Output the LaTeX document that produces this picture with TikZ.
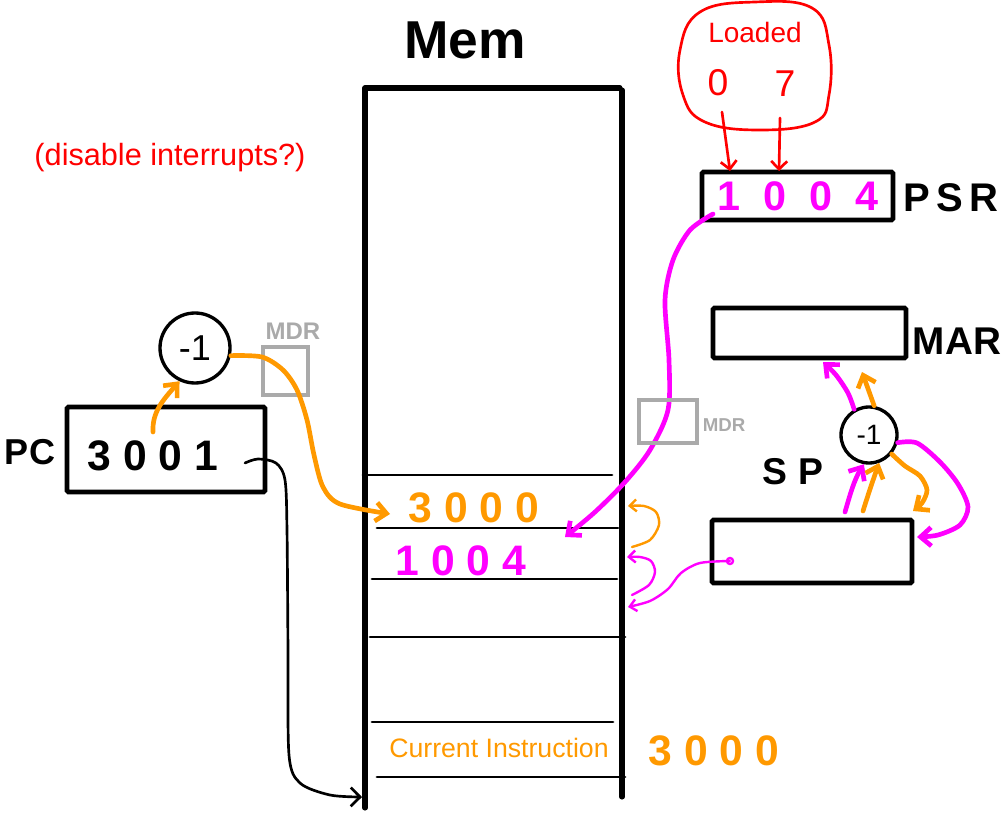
\documentclass[tikz,border=0pt]{standalone}
\usepackage{fontspec}
\setmainfont{Liberation Sans}
\usetikzlibrary{arrows.meta}
\definecolor{cOr}{RGB}{255,153,0}
\definecolor{cMg}{RGB}{255,0,255}
\definecolor{cRd}{RGB}{255,0,0}
\definecolor{cGy}{RGB}{170,170,170}
\newcommand{\fs}[1]{\fontsize{#1}{#1}\selectfont}
\newcommand{\gp}{\hspace{0.55em}}
\begin{document}
\begin{tikzpicture}[x=0.75pt,y=-0.75pt,
  reg/.style={draw=black, line width=3.5pt, rounded corners=1pt, inner sep=0},
  ghost/.style={draw=cGy, line width=2.5pt, inner sep=0},
  dec/.style={circle, draw=black, line width=2.5pt, inner sep=0},
  memline/.style={line width=2.2pt, line cap=round},
  wall/.style={line width=3.8pt, line cap=round, line join=round},
  fatarrow/.style={-{Straight Barb[length=8pt,width=14pt]}, line width=3.5pt, line cap=round, line join=round},
  slimarrow/.style={-{Straight Barb[length=5pt,width=9pt]}, line width=1.8pt, line cap=round, line join=round},
  txt/.style={inner sep=0, outer sep=0},
  heavy/.style={txt, font=\bfseries},
]
\useasboundingbox (0,0) rectangle (1003,813);

% ---- memory column
\draw[wall] (365,808) -- (365,88) -- (620,88);
\draw[wall] (622,90) -- (622,797);
\draw[memline] (363,475) -- (612,475);
\draw[memline] (377,528) -- (618,528);
\draw[memline] (372,579) -- (617,579);
\draw[memline] (370,637) -- (625,637);
\draw[memline] (372,722) -- (613,722);
\draw[memline] (377,777) -- (625,777);
\node[heavy] (memt) at (465,40) {\fs{40pt}Mem};

\coordinate (memA) at (390,514);
\coordinate (memB) at (565,537);
\coordinate (memC) at (362,797);
\coordinate (memR1) at (628,506);
\coordinate (memR1s) at (632,547);
\coordinate (memR2) at (627,557);
\coordinate (memR2s) at (632,595);
\coordinate (memR3) at (628,607);

\node[heavy, text=cOr] (v3000) at (474,508) {\fs{32pt}3 0 0 0};
\node[heavy, text=cMg] (v1004) at (461,561) {\fs{32pt}1 0 0 4};
\node[txt, text=cOr] (cur) at (499,748) {\fs{20pt}Current Instruction};
\node[heavy, text=cOr] (a3000) at (714,751) {\fs{32pt}3 0 0 0};

% ---- note
\node[txt, text=cRd] (note) at (170,158) {\fs{23pt}(disable interrupts?)};

% ---- PC side
\node[reg, minimum width={198*0.75pt}, minimum height={85*0.75pt}] (pc) at (166,449.5) {};
\node[heavy] (pcv) at (153,456) {\fs{32pt}3 0 0 1};
\node[heavy] (pcl) at (30,452) {\fs{27pt}PC};
\node[dec, minimum size={70*0.75pt}] (pcm) at (195,348) {\fs{27pt}-1};
\node[ghost, minimum width={45*0.75pt}, minimum height={48*0.75pt}] (mdr1) at (285.5,371) {};
\node[heavy, text=cGy] (mdr1l) at (293,331) {\fs{18pt}MDR};

\coordinate (pcor) at (153,432);
\coordinate (pcbk) at (245,463);
\draw[fatarrow, cOr] (pcor) .. controls (152,412) and (163,400) .. (pcm.245);
\draw[fatarrow, cOr] plot[smooth] coordinates {(pcm.-12) (262,357) (283,370) (297,390) (307,420) (314,455) (323,487) (340,504) (memA)};
\draw[-{Straight Barb[length=7pt,width=14pt]}, line width=2pt, line cap=round, line join=round]
  plot[smooth] coordinates {(pcbk) (258,459) (276,463) (285,480) (287,530) (288,650) (289,755) (300,783) (330,795) (memC)};

% ---- PSR and Loaded
\draw[cRd, line width=2pt] plot[smooth cycle, tension=0.7] coordinates {(700,12) (755,2) (812,8) (829,45) (829,95) (815,122) (760,130) (705,122) (683,95) (680,50)};
\node[txt, text=cRd] (ldl) at (755,32) {\fs{21pt}Loaded};
\node[txt, text=cRd] (ld0) at (718,83) {\fs{28pt}0};
\node[txt, text=cRd] (ld7) at (785,84) {\fs{28pt}7};
\node[reg, minimum width={191*0.75pt}, minimum height={48*0.75pt}] (psr) at (797.5,196) {};
\node[heavy, text=cMg] (psrv) at (798,196) {\fs{31pt}1\gp 0\gp 0\gp 4};
\node[heavy] (psrl) at (951,198) {\fs{30pt}P\,S\,R};
\coordinate (r0s) at (722,112);
\coordinate (r0e) at (730,171);
\coordinate (r7s) at (780,118);
\coordinate (r7e) at (779,171);
\draw[-{Straight Barb[length=6pt,width=12pt]}, cRd, line width=2pt, line cap=round] (r0s) -- (r0e);
\draw[-{Straight Barb[length=6pt,width=12pt]}, cRd, line width=2pt, line cap=round] (r7s) -- (r7e);

\coordinate (psrs) at (713,214);
\draw[fatarrow, cMg] plot[smooth] coordinates {(psrs) (690,230) (673,260) (665,300) (669,360) (668,410) (650,450) (625,482) (595,512) (memB)};

% ---- MAR, SP
\node[reg, minimum width={193*0.75pt}, minimum height={50*0.75pt}] (mar) at (809.5,333) {};
\node[heavy] (marl) at (957,341) {\fs{29pt}MAR};
\node[reg, minimum width={200*0.75pt}, minimum height={63*0.75pt}] (sp) at (812,551.5) {};
\node[heavy] (spl) at (793,472) {\fs{28pt}S P};
\node[dec, minimum size={56*0.75pt}] (spm) at (869,435) {\fs{21pt}-1};
\node[ghost, minimum width={58*0.75pt}, minimum height={43*0.75pt}] (mdr2) at (668,421.5) {};
\node[heavy, text=cGy] (mdr2l) at (724,425) {\fs{14pt}MDR};

\coordinate (spmg) at (845,512);
\coordinate (spor) at (863,511);
\coordinate (spmgE) at (917,537);
\coordinate (sporE) at (913,511);
\coordinate (marmg) at (823,362);
\coordinate (maror) at (862,372);
\coordinate (spdot) at (730,561);

\draw[fatarrow, cMg] (spmg) .. controls (850,495) and (854,480) .. (spm.-100);
\draw[fatarrow, cOr] (spor) .. controls (868,495) and (873,480) .. (spm.-70);
\draw[fatarrow, cOr] plot[smooth] coordinates {(spm.-40) (905,466) (920,476) (927,490) (922,503) (sporE)};
\draw[fatarrow, cMg] plot[smooth] coordinates {(spm.-15) (917,443) (940,462) (958,484) (968,507) (960,525) (938,535) (spmgE)};
\draw[fatarrow, cMg] plot[smooth] coordinates {(spm.120) (848,393) (836,375) (marmg)};
\draw[fatarrow, cOr] (spm.80) -- (maror);

\draw[slimarrow, cOr] plot[smooth] coordinates {(memR1s) (650,540) (659,525) (656,512) (644,506) (memR1)};
\draw[slimarrow, cMg] plot[smooth] coordinates {(memR2s) (649,585) (655,572) (651,561) (640,557) (memR2)};
\draw[slimarrow, cMg] plot[smooth] coordinates {(spdot) (700,563) (681,573) (668,589) (650,601) (memR3)};
\draw[cMg, line width=1.8pt] (spdot) circle[radius=3];
\end{tikzpicture}
\end{document}
